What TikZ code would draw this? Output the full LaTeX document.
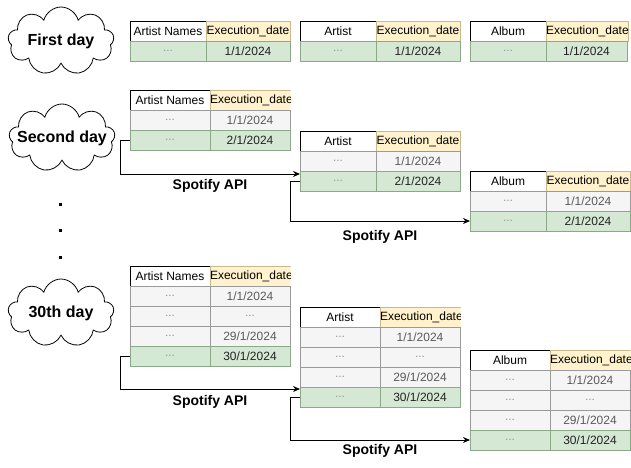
\documentclass[tikz,border=0pt]{standalone}
\usepackage{fontspec}
\setmainfont{Liberation Sans}
\usetikzlibrary{shapes.symbols, arrows.meta}

\definecolor{datefill}{HTML}{FFF2CC}
\definecolor{datebd}{HTML}{C9B98A}
\definecolor{oldfill}{HTML}{F5F5F5}
\definecolor{oldbd}{HTML}{9A9A9A}
\definecolor{oldtext}{HTML}{5A5A5A}
\definecolor{newfill}{HTML}{D5E8D4}
\definecolor{newbd}{HTML}{8BA888}
\definecolor{newtext}{HTML}{222222}
\definecolor{dotgray}{HTML}{999999}

\begin{document}
\begin{tikzpicture}[x=1pt, y=-1pt,
    cell/.style={draw, minimum height=20pt, inner sep=0pt, outer sep=0pt, anchor=north west, line width=0.7pt, font=\fontsize{12}{14}\selectfont},
    namecell/.style={cell, draw=black, fill=white},
    datecell/.style={cell, draw=datebd, fill=datefill},
    oldcell/.style={cell, draw=oldbd, fill=oldfill, text=oldtext},
    newcell/.style={cell, draw=newbd, fill=newfill, text=newtext},
    dots/.style={text=dotgray},
    day/.style={cloud, cloud puffs=9, aspect=1.6, draw, line width=0.8pt, minimum width=106pt, minimum height=68pt, inner sep=0pt, font=\bfseries\fontsize{16}{19}\selectfont},
    api/.style={font=\bfseries\fontsize{14}{17}\selectfont},
    flow/.style={line width=0.8pt, -{Stealth[length=7pt, width=6pt]}}]
    \useasboundingbox (0,0) rectangle (631,467);

    % first day
    \node[day] (d1) at (61,41) {\makebox[0pt]{First day}};

    \node[namecell, minimum width=76pt] (faH) at (130,21) {Artist Names};
    \node[datecell, minimum width=84pt] (faD) at (206,21) {Execution\_date};
    \node[newcell, dots, minimum width=76pt] (fa1n) at (130,41) {...};
    \node[newcell, minimum width=84pt] (fa1d) at (206,41) {1/1/2024};

    \node[namecell, minimum width=76pt] (fbH) at (300,21) {Artist};
    \node[datecell, minimum width=84pt] (fbD) at (376,21) {Execution\_date};
    \node[newcell, dots, minimum width=76pt] (fb1n) at (300,41) {...};
    \node[newcell, minimum width=84pt] (fb1d) at (376,41) {1/1/2024};

    \node[namecell, minimum width=76pt] (fcH) at (470,21) {Album};
    \node[datecell, minimum width=81pt] (fcD) at (546,21) {Execution\_date};
    \node[newcell, dots, minimum width=76pt] (fc1n) at (470,41) {...};
    \node[newcell, minimum width=81pt] (fc1d) at (546,41) {1/1/2024};

    % second day
    \node[day] (d2) at (62,138) {\makebox[0pt]{Second day}};

    \node[namecell, minimum width=80pt] (saH) at (130,90) {Artist Names};
    \begin{scope}
        \clip (209.5,89.5) rectangle (290.5,110.5);
        \node[datecell, minimum width=80pt] (saD) at (210,90) {Execution\_date};
    \end{scope}
    \node[oldcell, dots, minimum width=80pt] (sa1n) at (130,110) {...};
    \node[oldcell, minimum width=80pt] (sa1d) at (210,110) {1/1/2024};
    \node[newcell, dots, minimum width=80pt] (sa2n) at (130,130) {...};
    \node[newcell, minimum width=80pt] (sa2d) at (210,130) {2/1/2024};

    \node[namecell, minimum width=76pt] (sbH) at (300,131) {Artist};
    \node[datecell, minimum width=84pt] (sbD) at (376,131) {Execution\_date};
    \node[oldcell, dots, minimum width=76pt] (sb1n) at (300,151) {...};
    \node[oldcell, minimum width=84pt] (sb1d) at (376,151) {1/1/2024};
    \node[newcell, dots, minimum width=76pt] (sb2n) at (300,171) {...};
    \node[newcell, minimum width=84pt] (sb2d) at (376,171) {2/1/2024};

    \node[namecell, minimum width=76pt] (scH) at (470,171) {Album};
    \node[datecell, minimum width=84pt] (scD) at (546,171) {Execution\_date};
    \node[oldcell, dots, minimum width=76pt] (sc1n) at (470,191) {...};
    \node[oldcell, minimum width=84pt] (sc1d) at (546,191) {1/1/2024};
    \node[newcell, dots, minimum width=76pt] (sc2n) at (470,211) {...};
    \node[newcell, minimum width=84pt] (sc2d) at (546,211) {2/1/2024};

    \draw[flow] (sa2n.west) -- ++(-10,0) |- ([yshift=7pt]sb2n.west);
    \draw[flow] (sb2n.west) -- ++(-10,0) |- (sc2n.west);
    \node[api] (api1) at (210,186) {Spotify API};
    \node[api] (api2) at (380,237) {Spotify API};

    % days in between
    \fill (58.5,202.5) rectangle ++(3,3);
    \fill (58.5,228.5) rectangle ++(3,3);
    \fill (58.5,255.5) rectangle ++(3,3);

    % 30th day
    \node[day] (d30) at (61,313) {\makebox[0pt]{30th day}};

    \node[namecell, minimum width=80pt] (taH) at (130,266) {Artist Names};
    \begin{scope}
        \clip (209.5,265.5) rectangle (290.5,286.5);
        \node[datecell, minimum width=80pt] (taD) at (210,266) {Execution\_date};
    \end{scope}
    \node[oldcell, dots, minimum width=80pt] (ta1n) at (130,286) {...};
    \node[oldcell, minimum width=80pt] (ta1d) at (210,286) {1/1/2024};
    \node[oldcell, dots, minimum width=80pt] (ta2n) at (130,306) {...};
    \node[oldcell, dots, minimum width=80pt] (ta2d) at (210,306) {...};
    \node[oldcell, dots, minimum width=80pt] (ta3n) at (130,326) {...};
    \node[oldcell, minimum width=80pt] (ta3d) at (210,326) {29/1/2024};
    \node[newcell, dots, minimum width=80pt] (ta4n) at (130,346) {...};
    \node[newcell, minimum width=80pt] (ta4d) at (210,346) {30/1/2024};

    \node[namecell, minimum width=80pt] (tbH) at (300,307) {Artist};
    \begin{scope}
        \clip (379.5,306.5) rectangle (460.5,327.5);
        \node[datecell, minimum width=80pt] (tbD) at (380,307) {Execution\_date};
    \end{scope}
    \node[oldcell, dots, minimum width=80pt] (tb1n) at (300,327) {...};
    \node[oldcell, minimum width=80pt] (tb1d) at (380,327) {1/1/2024};
    \node[oldcell, dots, minimum width=80pt] (tb2n) at (300,347) {...};
    \node[oldcell, dots, minimum width=80pt] (tb2d) at (380,347) {...};
    \node[oldcell, dots, minimum width=80pt] (tb3n) at (300,367) {...};
    \node[oldcell, minimum width=80pt] (tb3d) at (380,367) {29/1/2024};
    \node[newcell, dots, minimum width=80pt] (tb4n) at (300,387) {...};
    \node[newcell, minimum width=80pt] (tb4d) at (380,387) {30/1/2024};

    \node[namecell, minimum width=80pt] (tcH) at (470,350) {Album};
    \begin{scope}
        \clip (549.5,349.5) rectangle (630.5,370.5);
        \node[datecell, minimum width=80pt] (tcD) at (550,350) {Execution\_date};
    \end{scope}
    \node[oldcell, dots, minimum width=80pt] (tc1n) at (470,370) {...};
    \node[oldcell, minimum width=80pt] (tc1d) at (550,370) {1/1/2024};
    \node[oldcell, dots, minimum width=80pt] (tc2n) at (470,390) {...};
    \node[oldcell, dots, minimum width=80pt] (tc2d) at (550,390) {...};
    \node[oldcell, dots, minimum width=80pt] (tc3n) at (470,410) {...};
    \node[oldcell, minimum width=80pt] (tc3d) at (550,410) {29/1/2024};
    \node[newcell, dots, minimum width=80pt] (tc4n) at (470,430) {...};
    \node[newcell, minimum width=80pt] (tc4d) at (550,430) {30/1/2024};

    \draw[flow] (ta4n.west) -- ++(-10,0) |- ([yshift=8pt]tb4n.west);
    \draw[flow] (tb4n.west) -- ++(-10,0) |- (tc4n.west);
    \node[api] (api3) at (210,402) {Spotify API};
    \node[api] (api4) at (380,451) {Spotify API};
\end{tikzpicture}
\end{document}
